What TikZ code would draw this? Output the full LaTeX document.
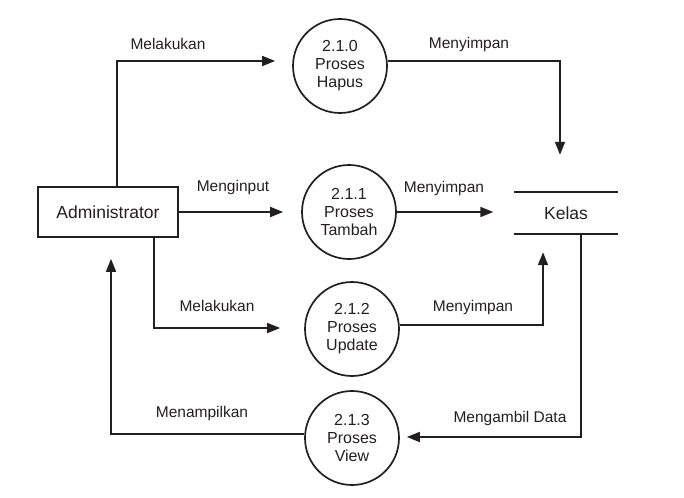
\documentclass[tikz,border=0pt]{standalone}
\usepackage{fontspec}
\setmainfont{Liberation Sans}
\usetikzlibrary{arrows.meta, positioning, shapes.geometric}
\definecolor{inkDark}{HTML}{231F20}

\begin{document}
\begin{tikzpicture}[x=1pt, y=-1pt,
    ent/.style={draw, line width=1.7pt, color=inkDark, minimum width=140pt,
                minimum height=50pt, inner sep=0pt,
                font=\fontsize{17.5}{20}\selectfont},
    proc/.style={draw, circle, line width=1.7pt, color=inkDark, minimum size=94pt,
                 inner sep=0pt, align=center,
                 font=\fontsize{16}{18}\selectfont},
    store/.style={minimum width=103pt, minimum height=42pt, inner sep=0pt,
                  text=inkDark, font=\fontsize{17.5}{20}\selectfont},
    lbl/.style={text=inkDark, font=\fontsize{15.5}{18}\selectfont},
    fl/.style={-{Triangle[length=13pt, width=10pt]}, line width=1.7pt, color=inkDark}]
    \useasboundingbox (0,0) rectangle (684,497);
    \node[ent]   (admin)  at (108,212) {Administrator};
    \node[proc]  (hapus)  at (340,66)  {2.1.0\\Proses\\Hapus};
    \node[proc]  (tambah) at (349,212) {2.1.1\\Proses\\Tambah};
    \node[proc]  (update) at (352,329) {2.1.2\\Proses\\Update};
    \node[proc]  (view)   at (352,438) {2.1.3\\Proses\\View};
    \node[store] (kelas)  at (566,213) {Kelas};
    \draw[line width=1.7pt, color=inkDark] (kelas.north west) -- (kelas.north east);
    \draw[line width=1.7pt, color=inkDark] (kelas.south west) -- (kelas.south east);
    % alur data
    \draw[fl] ([xshift=9pt]admin.north) |- ([xshift=-17pt,yshift=5pt]hapus.west);
    \draw[fl] ([yshift=5pt]hapus.east) -| ([xshift=-6pt,yshift=37pt]kelas.north);
    \draw[fl] (admin) -- ([xshift=-18pt]tambah.west);
    \draw[fl] (tambah) -- ([xshift=-21pt,yshift=1pt]kelas.west);
    \draw[fl] ([xshift=46pt]admin.south) |- ([xshift=-24pt,yshift=1pt]update.west);
    \draw[fl] ([yshift=4pt]update.east) -| ([xshift=-23pt,yshift=-18pt]kelas.south);
    \draw[fl] ([xshift=15pt]kelas.south) |- ([xshift=7pt,yshift=1pt]view.east);
    \draw[fl] ([yshift=4pt]view.west) -| ([xshift=3pt,yshift=-21pt]admin.south);
    \node[lbl] (l1) at (168,44)  {Melakukan};
    \node[lbl] (l2) at (469,44)  {Menyimpan};
    \node[lbl] (l3) at (233,187) {Menginput};
    \node[lbl] (l4) at (444,188) {Menyimpan};
    \node[lbl] (l5) at (217,306) {Melakukan};
    \node[lbl] (l6) at (473,307) {Menyimpan};
    \node[lbl] (l7) at (202,413) {Menampilkan};
    \node[lbl] (l8) at (510,418) {Mengambil Data};
\end{tikzpicture}
\end{document}
